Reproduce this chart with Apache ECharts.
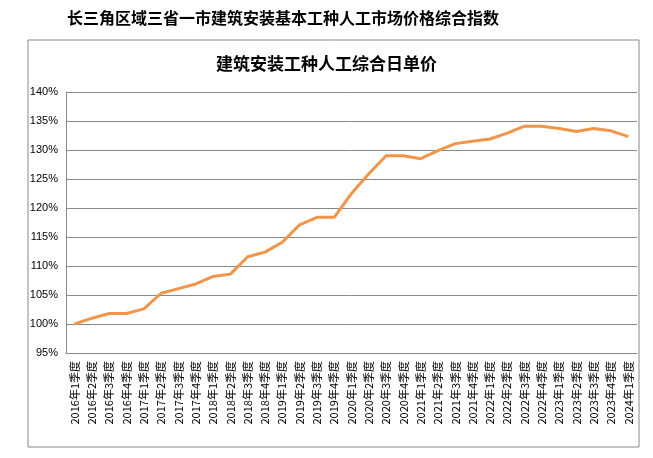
<!DOCTYPE html>
<html lang="zh">
<head>
    <meta charset="UTF-8">
    <title>人工综合日单价</title>
    <style>
        body { margin: 0; background: #fff; }
        #main { width: 653px; height: 458px; }
    </style>
    <script src="https://cdn.jsdelivr.net/npm/echarts@6/dist/echarts.min.js"></script>
</head>
<body>
    <div id="main"></div>
    <script>
        var quarters = ['1季度', '2季度', '3季度', '4季度'];
        var categories = [];
        for (var y = 2016; y <= 2024; y++) {
            for (var q = 0; q < 4; q++) {
                if (y === 2024 && q > 0) break;
                categories.push(y + '年' + quarters[q]);
            }
        }
        var values = [100, 101.0, 101.8, 101.8, 102.6, 105.3, 106.1, 106.9, 108.2, 108.6,
            111.6, 112.4, 114.1, 117.1, 118.4, 118.4, 122.5, 125.9, 129.0, 129.0,
            128.5, 129.9, 131.1, 131.5, 131.9, 132.9, 134.1, 134.1, 133.7, 133.2,
            133.7, 133.3, 132.3];

        var chart = echarts.init(document.getElementById('main'));
        chart.setOption({
            animation: false,
            graphic: [{
                type: 'rect',
                shape: { x: 28, y: 40, width: 611, height: 407 },
                style: { fill: 'none', stroke: '#888', lineWidth: 1 }
            }],
            title: [{
                text: '长三角区域三省一市建筑安装基本工种人工市场价格综合指数',
                left: 62, top: 5,
                textStyle: { fontSize: 16, fontWeight: 'bold', color: '#000', fontFamily: 'Noto Sans CJK SC' }
            }, {
                text: '建筑安装工种人工综合日单价',
                left: 'center', top: 50,
                textStyle: { fontSize: 17, fontWeight: 'bold', color: '#000', fontFamily: 'Noto Sans CJK SC' }
            }],
            grid: { left: 66, right: 16, top: 92, bottom: 105 },
            xAxis: {
                type: 'category',
                data: categories,
                boundaryGap: true,
                axisLine: { lineStyle: { color: '#888' } },
                axisTick: { show: false },
                axisLabel: { rotate: 90, interval: 0, fontSize: 11, color: '#000', fontFamily: 'SimSun, Noto Sans CJK SC' }
            },
            yAxis: {
                type: 'value',
                min: 95, max: 140, interval: 5,
                axisLine: { show: true, lineStyle: { color: '#888' } },
                axisLabel: { formatter: '{value}%', fontSize: 11, color: '#000' },
                splitLine: { lineStyle: { color: '#888' } }
            },
            series: [{
                type: 'line',
                data: values,
                symbol: 'none',
                lineStyle: { color: '#f0954a', width: 3 }
            }]
        });
    </script>
</body>
</html>
